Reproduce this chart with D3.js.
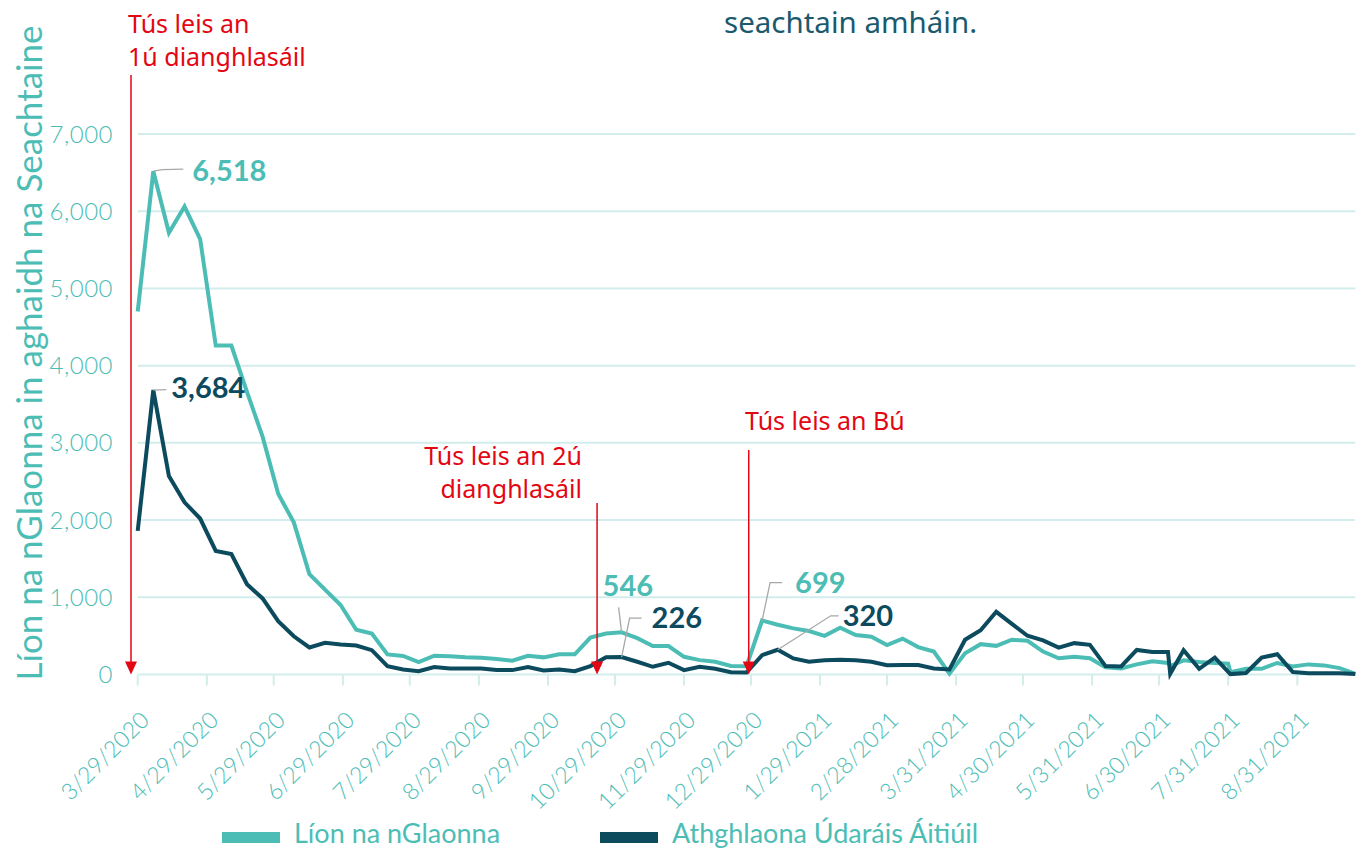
<!DOCTYPE html>
<html>
<head>
<meta charset="utf-8">
<script src="https://cdn.jsdelivr.net/npm/d3@7"></script>
<style>
  body { margin: 0; background: #fff; }
  svg { display: block; font-family: Lato, "Noto Sans", sans-serif; }
</style>
</head>
<body>
<svg id="chart" width="1365" height="850"></svg>
<script>

// weekly dates (two extra part-week points in July 2021)
const weeks = [
  "3/29/2020","4/5/2020","4/12/2020","4/19/2020","4/26/2020","5/3/2020","5/10/2020","5/17/2020","5/24/2020","5/31/2020",
  "6/7/2020","6/14/2020","6/21/2020","6/28/2020","7/5/2020","7/12/2020","7/19/2020","7/26/2020","8/2/2020","8/9/2020",
  "8/16/2020","8/23/2020","8/30/2020","9/6/2020","9/13/2020","9/20/2020","9/27/2020","10/4/2020","10/11/2020","10/18/2020",
  "10/25/2020","11/1/2020","11/8/2020","11/15/2020","11/22/2020","11/29/2020","12/6/2020","12/13/2020","12/20/2020","12/27/2020",
  "1/3/2021","1/10/2021","1/17/2021","1/24/2021","1/31/2021","2/7/2021","2/14/2021","2/21/2021","2/28/2021","3/7/2021",
  "3/14/2021","3/21/2021","3/28/2021","4/4/2021","4/11/2021","4/18/2021","4/25/2021","5/2/2021","5/9/2021","5/16/2021",
  "5/23/2021","5/30/2021","6/6/2021","6/13/2021","6/20/2021","6/27/2021","7/4/2021","7/5/2021","7/11/2021","7/18/2021",
  "7/25/2021","7/31/2021","8/1/2021","8/8/2021","8/15/2021","8/22/2021","8/29/2021","9/5/2021","9/12/2021","9/19/2021",
  "9/26/2021"
]

// Líon na nGlaonna
const calls = [
  4700, 6518, 5720, 6060, 5640, 4260, 4260, 3660, 3080, 2340,
  1970, 1300, 1100, 900, 580, 530, 260, 240, 160, 243,
  235, 222, 217, 200, 178, 243, 222, 261, 261, 478,
  530, 546, 470, 370, 368, 229, 186, 165, 110, 108,
  699, 645, 597, 563, 500, 606, 511, 489, 381, 465,
  355, 297, 10, 275, 393, 371, 450, 437, 297, 210,
  231, 210, 92, 77, 131, 170, 149, 110, 184, 162,
  149, 140, 31, 74, 74, 149, 105, 131, 118, 83,
  9
]

// Athghlaona Údaráis Áitiúil
const recalls = [
  1860, 3684, 2570, 2230, 2020, 1600, 1560, 1170, 985, 690,
  495, 350, 410, 390, 375, 315, 109, 65, 43, 96,
  78, 78, 78, 57, 57, 96, 52, 65, 43, 109,
  222, 226, 165, 100, 152, 56, 100, 74, 30, 25,
  251, 320, 208, 165, 186, 190, 186, 165, 121, 122,
  122, 79, 66, 450, 572, 812, 655, 502, 441, 349,
  406, 384, 109, 105, 318, 293, 293, 10, 315, 74,
  218, 35, 5, 20, 218, 262, 31, 15, 15, 15,
  5
]

const tickDates = [
  "3/29/2020","4/29/2020","5/29/2020","6/29/2020","7/29/2020","8/29/2020","9/29/2020","10/29/2020","11/29/2020",
  "12/29/2020","1/29/2021","2/28/2021","3/31/2021","4/30/2021","5/31/2021","6/30/2021","7/31/2021","8/31/2021"
]

const yTicks = [0, 1000, 2000, 3000, 4000, 5000, 6000, 7000]

const seriesNames = ["Líon na nGlaonna", "Athghlaona Údaráis Áitiúil"]

const lockdowns = [
  { date: "3/26/2020", lines: ["Tús leis an", "1ú dianghlasáil"] },
  { date: "10/21/2020", lines: ["Tús leis an 2ú", "dianghlasáil"] },
  { date: "12/28/2020", lines: ["Tús leis an Bú"] }
]

const callouts = [
  { series: 0, date: "4/5/2020", text: "6,518" },
  { series: 1, date: "4/5/2020", text: "3,684" },
  { series: 0, date: "11/1/2020", text: "546" },
  { series: 1, date: "11/1/2020", text: "226" },
  { series: 0, date: "1/3/2021", text: "699" },
  { series: 1, date: "1/10/2021", text: "320" }
]

const teal = "#4cbdb5"
const navy = "#0c4a5e"
const red = "#e30613"
const grid = "#d2edeb"
const colours = [teal, navy]
const wideFont = "'Noto Sans', 'Open Sans', sans-serif"

const parseDate = d3.timeParse("%m/%d/%Y")
const dates = weeks.map(parseDate)

const svg = d3.select("#chart")

const x = d3.scaleTime()
  .domain([dates[0], dates[dates.length - 1]])
  .range([137.7, 1355.3])

const y = d3.scaleLinear()
  .domain([0, 7000])
  .range([674.5, 134])

// gridlines
svg.append("g")
  .selectAll("line")
  .data(yTicks)
  .join("line")
  .attr("x1", x.range()[0])
  .attr("x2", x.range()[1])
  .attr("y1", d => y(d))
  .attr("y2", d => y(d))
  .attr("stroke", grid)
  .attr("stroke-width", 2)

// y labels
svg.append("g")
  .selectAll("text")
  .data(yTicks)
  .join("text")
  .attr("x", 113)
  .attr("y", d => y(d))
  .attr("dy", "0.36em")
  .attr("text-anchor", "end")
  .attr("fill", teal)
  .attr("font-size", 24)
  .attr("font-weight", 300)
  .attr("letter-spacing", 0.5)
  .text(d => d3.format(",")(d))

// x axis ticks + labels
const ticks = tickDates.map(parseDate)

svg.append("g")
  .selectAll("line")
  .data(ticks)
  .join("line")
  .attr("x1", d => x(d))
  .attr("x2", d => x(d))
  .attr("y1", y(0))
  .attr("y2", y(0) + 11)
  .attr("stroke", grid)
  .attr("stroke-width", 2)

svg.append("g")
  .selectAll("text")
  .data(ticks)
  .join("text")
  .attr("transform", d => `translate(${x(d) + 13},${y(0) + 47}) rotate(-45)`)
  .attr("text-anchor", "end")
  .attr("fill", teal)
  .attr("font-size", 23)
  .attr("font-weight", 300)
  .text((d, i) => tickDates[i])

// axis title
svg.append("text")
  .attr("transform", "translate(30,353) rotate(-90)")
  .attr("text-anchor", "middle")
  .attr("dy", "0.35em")
  .attr("fill", teal)
  .attr("font-size", 35)
  .text("Líon na nGlaonna in aghaidh na Seachtaine")

// tail of the title
svg.append("text")
  .attr("x", 724)
  .attr("y", 33)
  .attr("fill", "#1b5a6d")
  .style("font-family", wideFont)
  .attr("font-size", 29.5)
  .text("seachtain amháin.")

// lines
const line = d3.line()
  .x((d, i) => x(dates[i]))
  .y(d => y(d))

const seriesData = [calls, recalls]

svg.append("g")
  .selectAll("path")
  .data(seriesData)
  .join("path")
  .attr("d", d => line(d))
  .attr("fill", "none")
  .attr("stroke", (d, i) => colours[i])
  .attr("stroke-width", 4)
  .attr("stroke-linejoin", "miter")

// lockdown arrows
const lockPos = [
  { top: 75, tx: 128, ty: 33, anchor: "start" },
  { top: 503, tx: 582, ty: 465, anchor: "end" },
  { top: 450, tx: 745, ty: 430, anchor: "start" }
]

lockdowns.forEach((l, i) => {
  const lx = x(parseDate(l.date))
  const p = lockPos[i]
  svg.append("line")
    .attr("x1", lx).attr("x2", lx)
    .attr("y1", p.top).attr("y2", y(0) - 10)
    .attr("stroke", red)
    .attr("stroke-width", 1.5)
  svg.append("path")
    .attr("d", `M${lx - 6},${y(0) - 13}L${lx + 6},${y(0) - 13}L${lx},${y(0)}Z`)
    .attr("fill", red)
  l.lines.forEach((t, j) => {
    svg.append("text")
      .attr("x", p.tx)
      .attr("y", p.ty + j * 33)
      .attr("text-anchor", p.anchor)
      .attr("fill", red)
      .style("font-family", wideFont)
      .attr("font-size", 25)
      .text(t)
  })
})

// callouts: leader path relative to the point, then the label
const calloutPos = [
  { leader: [[9, -1.5], [30, -2]], lx: 39, ly: 0 },
  { leader: [[13, -0.5]], lx: 18, ly: -2 },
  { leader: [[-3, -25]], lx: -19, ly: -46 },
  { leader: [[8, -39], [20, -39]], lx: 30, ly: -39 },
  { leader: [[8, -38], [20, -38]], lx: 33, ly: -38 },
  { leader: [[53, -34], [61, -34]], lx: 65, ly: -34 }
]

callouts.forEach((c, i) => {
  const idx = weeks.indexOf(c.date)
  const px = x(dates[idx])
  const py = y(seriesData[c.series][idx])
  const pos = calloutPos[i]
  const pts = [[px, py]].concat(pos.leader.map(o => [px + o[0], py + o[1]]))
  svg.append("path")
    .attr("d", d3.line()(pts))
    .attr("fill", "none")
    .attr("stroke", "#a8a8a8")
    .attr("stroke-width", 1.3)
  svg.append("text")
    .attr("x", px + pos.lx)
    .attr("y", py + pos.ly)
    .attr("dy", "0.35em")
    .attr("fill", colours[c.series])
    .attr("font-size", 29)
    .attr("font-weight", 700)
    .text(c.text)
})

// legend
const legendX = [222, 600]
const leg = svg.append("g")
  .selectAll("g")
  .data(seriesNames)
  .join("g")
  .attr("transform", (d, i) => `translate(${legendX[i]},0)`)

leg.append("rect")
  .attr("x", 0)
  .attr("y", 832)
  .attr("width", 58)
  .attr("height", 11)
  .attr("fill", (d, i) => colours[i])

leg.append("text")
  .attr("x", 72)
  .attr("y", 843)
  .attr("fill", teal)
  .attr("font-size", 27)
  .text(d => d)

</script>
</body>
</html>
